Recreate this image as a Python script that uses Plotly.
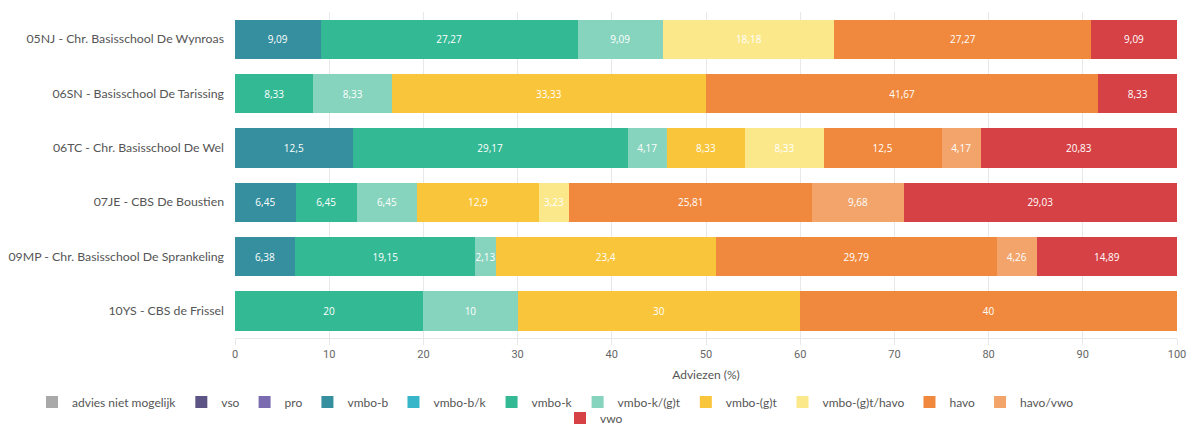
import plotly.graph_objects as go

schools = [
    "05NJ - Chr. Basisschool De Wynroas",
    "06SN - Basisschool De Tarissing",
    "06TC - Chr. Basisschool De Wel",
    "07JE - CBS De Boustien",
    "09MP - Chr. Basisschool De Sprankeling",
    "10YS - CBS de Frissel",
]

advies_niet_mogelijk = [0, 0, 0, 0, 0, 0]
vso = [0, 0, 0, 0, 0, 0]
pro = [0, 0, 0, 0, 0, 0]
vmbo_b = [9.09, 0, 12.5, 6.45, 6.38, 0]
vmbo_bk = [0, 0, 0, 0, 0, 0]
vmbo_k = [27.27, 8.33, 29.17, 6.45, 19.15, 20]
vmbo_k_gt = [9.09, 8.33, 4.17, 6.45, 2.13, 10]
vmbo_gt = [0, 33.33, 8.33, 12.9, 23.4, 30]
vmbo_gt_havo = [18.18, 0, 8.33, 3.23, 0, 0]
havo = [27.27, 41.67, 12.5, 25.81, 29.79, 40]
havo_vwo = [0, 0, 4.17, 9.68, 4.26, 0]
vwo = [9.09, 8.33, 20.83, 29.03, 14.89, 0]

series = [
    ("advies niet mogelijk", advies_niet_mogelijk, "#a9a9a9"),
    ("vso", vso, "#5c5484"),
    ("pro", pro, "#7b6cb1"),
    ("vmbo-b", vmbo_b, "#358f9e"),
    ("vmbo-b/k", vmbo_bk, "#38b6c9"),
    ("vmbo-k", vmbo_k, "#33b994"),
    ("vmbo-k/(g)t", vmbo_k_gt, "#86d4bd"),
    ("vmbo-(g)t", vmbo_gt, "#f9c53b"),
    ("vmbo-(g)t/havo", vmbo_gt_havo, "#fbe88b"),
    ("havo", havo, "#f0893d"),
    ("havo/vwo", havo_vwo, "#f2a46b"),
    ("vwo", vwo, "#d64145"),
]

def fmt(v):
    return "" if v == 0 else f"{v:g}".replace(".", ",")

fig = go.Figure()
for name, vals, color in series:
    fig.add_trace(go.Bar(
        name=name,
        y=schools,
        x=vals,
        orientation="h",
        marker=dict(color=color, line=dict(width=0)),
        text=[fmt(v) for v in vals],
        textposition="inside",
        insidetextanchor="middle",
        constraintext="none",
        textangle=0,
        textfont=dict(color="white", size=10, family="Open Sans"),
        hovertemplate="%{y}<br>" + name + ": %{x}<extra></extra>",
        legend="legend2" if name == "vwo" else "legend",
    ))

W, H = 1189, 426
ML, MR, MT, MB = 235, 12, 12, 88
plot_w = W - ML - MR
plot_h = H - MT - MB

def px_to_paper_x(px):
    return (px - ML) / plot_w

def px_to_paper_y(py):
    return (H - MB - py) / plot_h

legend_common = dict(
    orientation="h",
    xref="paper",
    yref="paper",
    yanchor="middle",
    xanchor="left",
    font=dict(size=12, color="#555555", family="Lato"),
    traceorder="normal",
    bgcolor="rgba(0,0,0,0)",
    borderwidth=0,
)

fig.update_layout(
    barmode="stack",
    bargap=0.276,
    width=W,
    height=H,
    margin=dict(l=ML, r=MR, t=MT, b=MB, autoexpand=False),
    paper_bgcolor="white",
    plot_bgcolor="white",
    font=dict(family="Lato", color="#555555", size=12),
    xaxis=dict(
        range=[0, 100],
        dtick=10,
        showgrid=True,
        gridcolor="#e8e8e8",
        gridwidth=1,
        zeroline=False,
        showline=True,
        linecolor="#e8e8e8",
        ticks="outside",
        ticklen=6,
        tickcolor="#e8e8e8",
        tickfont=dict(size=11, color="#666666", family="Roboto"),
        ticklabeloverflow="allow",
        title=dict(text="Adviezen (%)", font=dict(size=12, color="#555555", family="Lato"), standoff=10),
        automargin=False,
    ),
    yaxis=dict(
        autorange="reversed",
        showgrid=False,
        showline=False,
        ticks="",
        ticklabelstandoff=10,
        tickfont=dict(size=12.3, color="#555555", family="Lato"),
        automargin=False,
    ),
    legend=dict(legend_common, x=px_to_paper_x(32), y=px_to_paper_y(402)),
    legend2=dict(legend_common, x=px_to_paper_x(560), y=px_to_paper_y(418)),
)

fig.write_html(
    "out.html",
    config={"displayModeBar": False},
    post_script="document.body.style.margin='0';document.body.style.overflow='hidden';",
)
